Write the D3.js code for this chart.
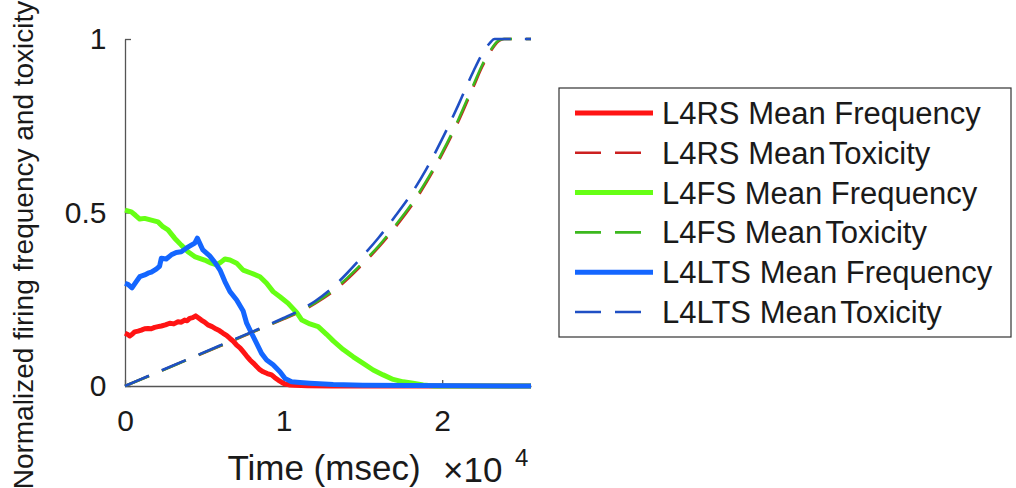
<!DOCTYPE html>
<html>
<head>
<meta charset="utf-8">
<script src="https://cdn.jsdelivr.net/npm/d3@7"></script>
<style>
  body { margin: 0; background: #fff; }
  text { font-family: "Liberation Sans", Arial, sans-serif; fill: #1a1a1a; }
</style>
</head>
<body>
<div id="main"></div>
<script>
// time in msec, values normalized
var redFreqTime = [0, 150, 300, 450, 610, 820, 1030, 1240, 1450, 1660, 1870, 2080, 2290, 2550, 2820, 3080, 3340, 3550, 3760, 3920, 4080, 4270, 4460, 4640, 4810, 5020, 5230, 5490, 5750, 5970, 6190, 6400, 6620, 6830, 7040, 7250, 7450, 7660, 7880, 8090, 8300, 8500, 8710, 8970, 9240, 9450, 9660, 9870, 10080, 10400, 10710, 11500, 13000, 25600]
var redFreq = [0.152, 0.149, 0.144, 0.149, 0.156, 0.158, 0.161, 0.165, 0.166, 0.165, 0.169, 0.171, 0.173, 0.176, 0.181, 0.179, 0.185, 0.184, 0.19, 0.188, 0.195, 0.197, 0.202, 0.196, 0.19, 0.184, 0.176, 0.171, 0.164, 0.159, 0.152, 0.146, 0.137, 0.129, 0.118, 0.11, 0.099, 0.087, 0.075, 0.066, 0.056, 0.047, 0.041, 0.036, 0.032, 0.024, 0.017, 0.011, 0.006, 0.003, 0.002, 0.001, 0, 0]

var greenFreqTime = [0, 400, 660, 930, 1240, 1660, 2080, 2390, 2710, 3130, 3550, 3970, 4390, 4700, 5020, 5440, 5780, 6050, 6300, 6620, 7040, 7450, 7980, 8510, 8930, 9340, 9770, 10290, 10820, 11150, 11660, 12180, 12710, 13130, 13760, 14390, 15020, 15650, 16280, 16910, 17540, 18160, 18800, 19500, 25600]
var greenFreq = [0.507, 0.502, 0.492, 0.481, 0.483, 0.478, 0.473, 0.459, 0.45, 0.426, 0.406, 0.387, 0.373, 0.368, 0.363, 0.354, 0.349, 0.357, 0.366, 0.363, 0.354, 0.334, 0.325, 0.315, 0.296, 0.272, 0.257, 0.238, 0.212, 0.19, 0.179, 0.171, 0.149, 0.13, 0.105, 0.084, 0.065, 0.046, 0.032, 0.019, 0.012, 0.008, 0.003, 0, 0]

var blueFreqTime = [0, 190, 440, 710, 930, 1240, 1450, 1660, 1970, 2180, 2290, 2600, 2920, 3230, 3550, 3860, 4180, 4400, 4560, 4910, 5340, 5670, 5990, 6300, 6620, 7040, 7450, 7670, 7980, 8300, 8610, 8930, 9340, 9770, 10080, 10500, 11030, 11660, 13130, 15000, 25600]
var blueFreq = [0.296, 0.293, 0.283, 0.301, 0.315, 0.32, 0.325, 0.328, 0.337, 0.345, 0.368, 0.366, 0.378, 0.385, 0.387, 0.397, 0.406, 0.412, 0.426, 0.392, 0.375, 0.356, 0.334, 0.301, 0.272, 0.248, 0.216, 0.181, 0.152, 0.123, 0.094, 0.075, 0.061, 0.041, 0.022, 0.012, 0.01, 0.008, 0.004, 0.002, 0]

var toxTime = [0, 2000, 4000, 6000, 8000, 10000, 11000, 12000, 13000, 14000, 15000, 16000, 17000, 18000, 19000, 20000, 21000, 22000, 22500, 23000, 23300, 23600, 23900, 25600]
var redTox = [0, 0.038, 0.077, 0.115, 0.154, 0.193, 0.213, 0.238, 0.268, 0.307, 0.352, 0.4, 0.455, 0.515, 0.586, 0.668, 0.76, 0.865, 0.918, 0.96, 0.981, 0.995, 1, 1]
var greenTox = [0, 0.038, 0.077, 0.116, 0.155, 0.194, 0.215, 0.24, 0.271, 0.311, 0.356, 0.404, 0.46, 0.52, 0.591, 0.673, 0.766, 0.871, 0.923, 0.964, 0.984, 0.997, 1, 1]
var blueTox = [0, 0.039, 0.078, 0.117, 0.156, 0.196, 0.218, 0.245, 0.28, 0.325, 0.375, 0.428, 0.487, 0.55, 0.625, 0.712, 0.808, 0.91, 0.955, 0.988, 1, 1, 1, 1]

var xTicks = [0, 10000, 20000]
var yTicks = [0, 0.5, 1]

var series = [
  { name: 'L4RS Mean Frequency', time: redFreqTime, values: redFreq, color: '#ff1414', dashed: false },
  { name: 'L4RS Mean Toxicity', time: toxTime, values: redTox, color: '#cc2020', dashed: true },
  { name: 'L4FS Mean Frequency', time: greenFreqTime, values: greenFreq, color: '#66ff14', dashed: false },
  { name: 'L4FS Mean Toxicity', time: toxTime, values: greenTox, color: '#3cb81e', dashed: true },
  { name: 'L4LTS Mean Frequency', time: blueFreqTime, values: blueFreq, color: '#1466ff', dashed: false },
  { name: 'L4LTS Mean Toxicity', time: toxTime, values: blueTox, color: '#1f4fc4', dashed: true }
]

var main = d3.select('#main')
  .append('svg')
  .attr('width', 1016)
  .attr('height', 488)
  .style('background', '#fff')

var x = d3.scaleLinear().domain([0, 25600]).range([125, 531])
var y = d3.scaleLinear().domain([0, 1]).range([386, 39])

var xAxis = main.append('g')
  .attr('transform', 'translate(0,386)')
  .call(d3.axisBottom(x).tickValues(xTicks).tickFormat(d => d / 1e4)
    .tickSizeInner(-6).tickSizeOuter(0).tickPadding(24))

var yAxis = main.append('g')
  .attr('transform', 'translate(125,0)')
  .call(d3.axisLeft(y).tickValues(yTicks).tickFormat(d => d)
    .tickSizeInner(-6).tickSizeOuter(0).tickPadding(18.5))

;[xAxis, yAxis].forEach(function (g) {
  g.attr('font-size', 30).attr('font-family', '"Liberation Sans", Arial, sans-serif')
  g.selectAll('.domain, .tick line').attr('stroke', '#555').attr('stroke-width', 1.3)
  g.selectAll('text').attr('fill', '#1a1a1a')
})

var line = d3.line()

series.forEach(function (s) {
  main.append('path')
    .datum(s.time.map((t, i) => [x(t), y(s.values[i])]))
    .attr('d', s.dashed ? line.curve(d3.curveMonotoneX) : line.curve(d3.curveLinear))
    .attr('fill', 'none')
    .attr('stroke', s.color)
    .attr('stroke-width', s.dashed ? 2.6 : 5)
    .attr('stroke-linejoin', 'round')
    .attr('stroke-dasharray', s.dashed ? '26,14' : null)
})

main.append('text')
  .text('Time (msec)')
  .attr('x', 324)
  .attr('y', 480)
  .attr('text-anchor', 'middle')
  .attr('font-size', 35)

main.append('text')
  .text('\u00d710')
  .attr('x', 443)
  .attr('y', 482)
  .attr('font-size', 35)

main.append('text')
  .text('4')
  .attr('x', 515)
  .attr('y', 466)
  .attr('font-size', 24)

main.append('text')
  .text('Normalized firing frequency and toxicity')
  .attr('transform', 'translate(33,245) rotate(-90)')
  .attr('text-anchor', 'middle')
  .attr('font-size', 28)

// legend
main.append('rect')
  .attr('x', 559)
  .attr('y', 88)
  .attr('width', 452)
  .attr('height', 249)
  .attr('fill', '#fff')
  .attr('stroke', '#333')
  .attr('stroke-width', 1.2)

var rows = main.selectAll('g.legend')
  .data(series)
  .enter()
  .append('g')
  .attr('class', 'legend')
  .attr('transform', (_, i) => `translate(0, ${113 + i * 39.8})`)

rows.append('line')
  .attr('x1', 575)
  .attr('x2', 653)
  .attr('stroke', _ => _.color)
  .attr('stroke-width', _ => _.dashed ? 2.6 : 5)
  .attr('stroke-dasharray', _ => _.dashed ? '26,14' : null)

rows.append('text')
  .attr('x', 662)
  .attr('y', 11)
  .attr('font-size', 31)
  .each(function (d) {
    var parts = d.name.split(' Toxicity')
    var t = d3.select(this)
    if (parts.length > 1) {
      t.append('tspan').text(parts[0])
      t.append('tspan').attr('dx', 3).text('Toxicity')
    } else {
      t.text(d.name)
    }
  })
</script>
</body>
</html>
